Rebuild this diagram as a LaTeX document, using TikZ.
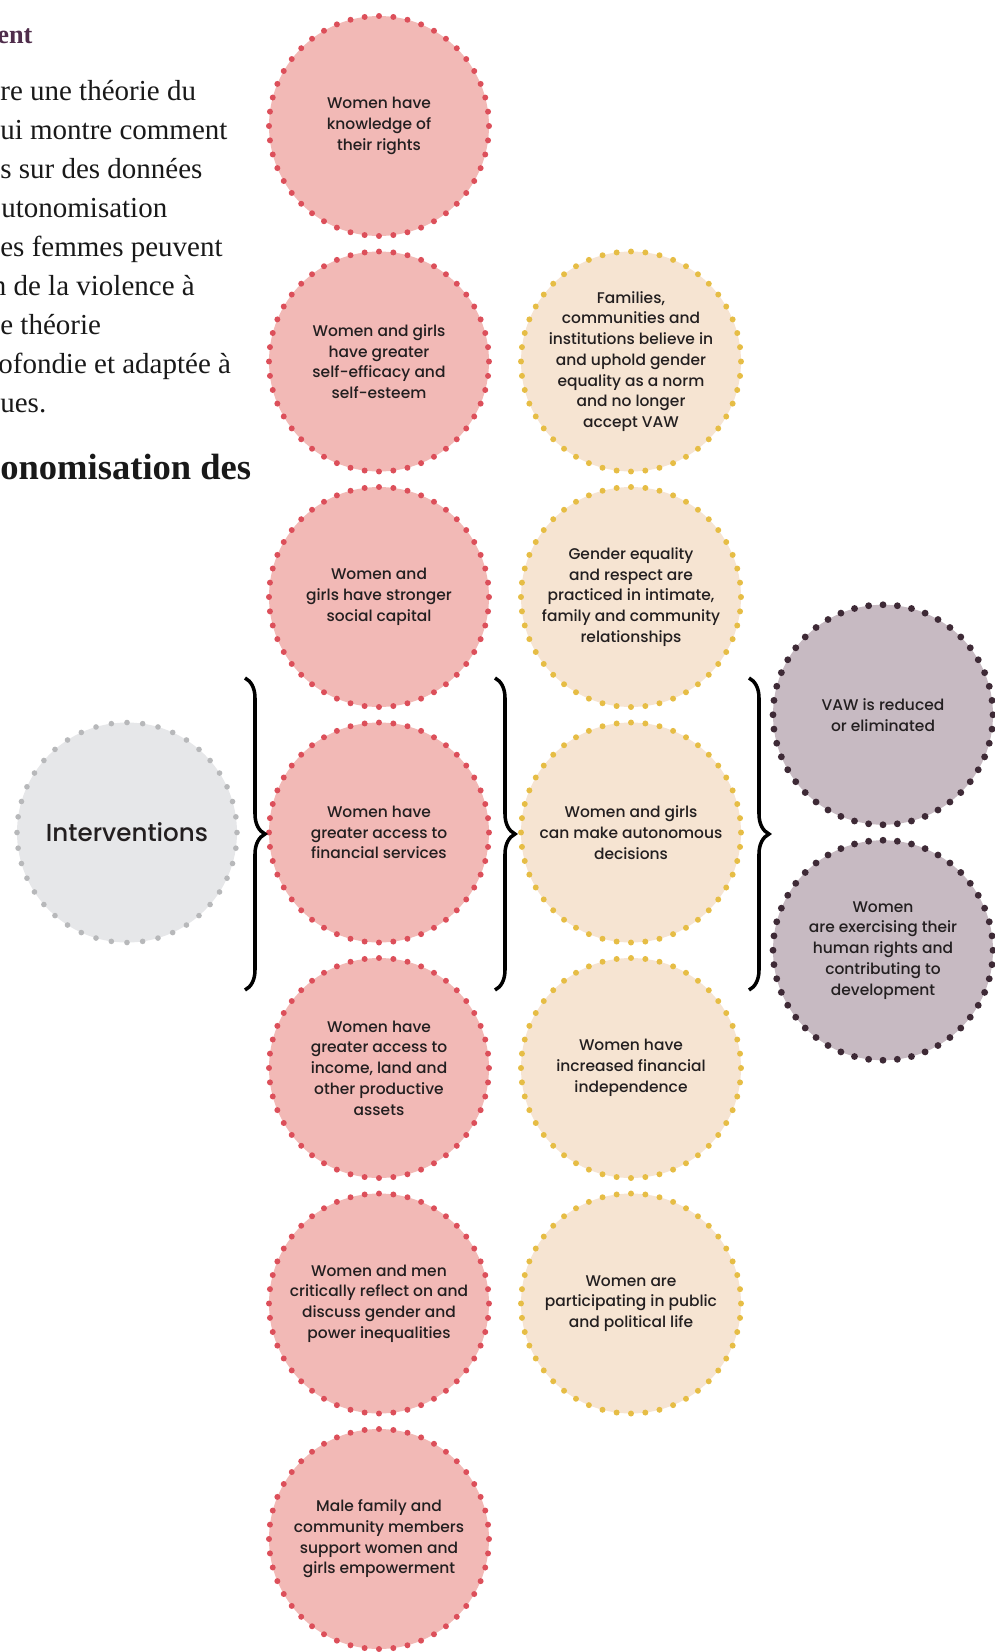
\documentclass[tikz,border=0pt]{standalone}
\usepackage{fontspec}
\setmainfont{Poppins Medium}
\newfontfamily\pagefont{Liberation Serif}
\usetikzlibrary{decorations.pathreplacing}
\definecolor{pinkfill}{HTML}{F2B9B6}
\definecolor{pinkdot}{HTML}{DC4F5A}
\definecolor{sandfill}{HTML}{F6E4D2}
\definecolor{sanddot}{HTML}{E6BD45}
\definecolor{mauvefill}{HTML}{C7BAC2}
\definecolor{mauvedot}{HTML}{3E2A36}
\definecolor{greyfill}{HTML}{E6E7E9}
\definecolor{greydot}{HTML}{B7B8BA}
\definecolor{headpurple}{HTML}{4F2D4B}
\definecolor{ink}{HTML}{231F20}
\tikzset{
    ring/.style={circle, minimum size=4.4cm, inner sep=0pt, align=center, text=ink,
        line cap=round, font=\fontsize{8.8}{11.8}\selectfont},
    pinkgoal/.style={ring, fill=pinkfill, draw=pinkdot, line width=3.4pt, dash pattern=on 0pt off 0.287979cm},
    sandgoal/.style={ring, fill=sandfill, draw=sanddot, line width=3.4pt, dash pattern=on 0pt off 0.287979cm},
    mauvegoal/.style={ring, fill=mauvefill, draw=mauvedot, line width=3.9pt, dash pattern=on 0pt off 0.287979cm},
    pagetext/.style={anchor=base west, inner sep=0pt, font=\pagefont\fontsize{16.5}{20}\selectfont, text=black!90},
    bracket/.style={decorate, decoration={brace, amplitude=0.4cm, aspect=0.5}, line width=2pt}
}

\begin{document}
\begin{tikzpicture}
    \useasboundingbox (0,0) rectangle (19.9,-33.04);
    % cut-off page text on the left
    \node[pagetext, text=headpurple, font=\pagefont\bfseries\fontsize{15}{18}\selectfont] (head) at (-0.06,-0.86) {ent};
    \node[pagetext] (l1) at (0,-2) {re une théorie du};
    \node[pagetext] (l2) at (0,-2.78) {ui montre comment};
    \node[pagetext] (l3) at (0,-3.56) {s sur des données};
    \node[pagetext] (l4) at (0.02,-4.34) {utonomisation};
    \node[pagetext] (l5) at (0,-5.12) {es femmes peuvent};
    \node[pagetext] (l6) at (-0.17,-5.9) {n de la violence à};
    \node[pagetext] (l7) at (0,-6.68) {e théorie};
    \node[pagetext] (l8) at (-0.04,-7.46) {ofondie et adaptée à};
    \node[pagetext] (l9) at (0,-8.24) {ues.};
    \node[pagetext, font=\pagefont\bfseries\fontsize{20.8}{25}\selectfont] (head2) at (0,-9.58) {onomisation des};

    \node[ring, fill=greyfill, draw=greydot, line width=3.2pt, dash pattern=on 0pt off 0.314159cm,
        font=\fontsize{14}{17}\selectfont] (interv) at (2.54,-16.65) {Interventions};

    \node[pinkgoal] (p1) at (7.58,-2.52) {Women have\\knowledge of\\their rights};
    \node[pinkgoal] (p2) at (7.58,-7.23) {Women and girls\\have greater\\self-efficacy and\\self-esteem};
    \node[pinkgoal] (p3) at (7.58,-11.94) {Women and\\girls have stronger\\social capital};
    \node[pinkgoal] (p4) at (7.58,-16.65) {Women have\\greater access to\\financial services};
    \node[pinkgoal] (p5) at (7.58,-21.36) {Women have\\greater access to\\income, land and\\other productive\\assets};
    \node[pinkgoal] (p6) at (7.58,-26.07) {Women and men\\critically reflect on and\\discuss gender and\\power inequalities};
    \node[pinkgoal] (p7) at (7.58,-30.78) {Male family and\\community members\\support women and\\girls empowerment};

    \node[sandgoal] (s1) at (12.62,-7.23) {Families,\\communities and\\institutions believe in\\and uphold gender\\equality as a norm\\and no longer\\accept VAW};
    \node[sandgoal] (s2) at (12.62,-11.94) {Gender equality\\and respect are\\practiced in intimate,\\family and community\\relationships};
    \node[sandgoal] (s3) at (12.62,-16.65) {Women and girls\\can make autonomous\\decisions};
    \node[sandgoal] (s4) at (12.62,-21.36) {Women have\\increased financial\\independence};
    \node[sandgoal] (s5) at (12.62,-26.07) {Women are\\participating in public\\and political life};

    \node[mauvegoal] (m1) at (17.66,-14.295) {VAW is reduced\\or eliminated};
    \node[mauvegoal] (m2) at (17.66,-19.005) {Women\\are exercising their\\human rights and\\contributing to\\development};

    % braces
    \coordinate (b1top) at (4.9,-13.56);
    \coordinate (b1bot) at (4.9,-19.8);
    \coordinate (b2top) at (9.9,-13.56);
    \coordinate (b2bot) at (9.9,-19.8);
    \coordinate (b3top) at (14.98,-13.56);
    \coordinate (b3bot) at (14.98,-19.8);
    \draw[bracket] (b1top) -- (b1bot);
    \draw[bracket] (b2top) -- (b2bot);
    \draw[bracket] (b3top) -- (b3bot);
\end{tikzpicture}
\end{document}
